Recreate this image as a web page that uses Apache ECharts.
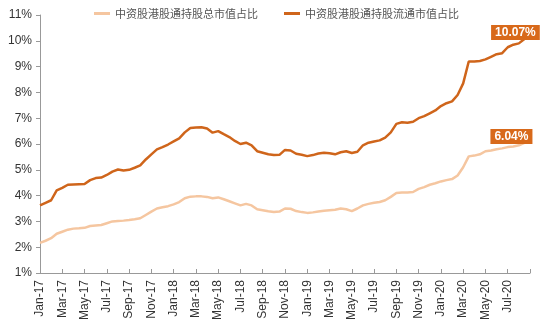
<!DOCTYPE html>
<html>
<head>
<meta charset="utf-8">
<script src="https://cdn.jsdelivr.net/npm/echarts@6/dist/echarts.min.js"></script>
<style>
html,body{margin:0;padding:0;background:#fff;}
#chart{width:553px;height:329px;}
</style>
</head>
<body>
<div id="chart"></div>
<script>
// Month labels for the x axis, one every two months starting Jan-17
const monthLabels = ['Jan-17','Mar-17','May-17','Jul-17','Sep-17','Nov-17','Jan-18','Mar-18','May-18','Jul-18','Sep-18','Nov-18','Jan-19','Mar-19','May-19','Jul-19','Sep-19','Nov-19','Jan-20','Mar-20','May-20','Jul-20'];

// Observation times in months since Jan-2017 (half-month steps)
const months = [0,0.5,1,1.5,2,2.5,3,3.5,4,4.5,5,5.5,6,6.5,7,7.5,8,8.5,9,9.5,10,10.5,11,11.5,12,12.5,13,13.5,14,14.5,15,15.5,16,16.5,17,17.5,18,18.5,19,19.5,20,20.5,21,21.5,22,22.5,23,23.5,24,24.5,25,25.5,26,26.5,27,27.5,28,28.5,29,29.5,30,30.5,31,31.5,32,32.5,33,33.5,34,34.5,35,35.5,36,36.5,37,37.5,38,38.5,39,39.5,40,40.5,41,41.5,42,42.5,43,43.5];

// Share of total market cap held via Southbound (%)
const totalShare = [2.17,2.25,2.35,2.52,2.6,2.68,2.72,2.73,2.75,2.82,2.84,2.86,2.93,3.0,3.02,3.03,3.05,3.08,3.12,3.25,3.38,3.5,3.55,3.59,3.66,3.75,3.9,3.96,3.97,3.97,3.95,3.9,3.93,3.86,3.78,3.7,3.62,3.68,3.62,3.47,3.43,3.39,3.36,3.38,3.5,3.49,3.4,3.36,3.33,3.35,3.38,3.41,3.43,3.45,3.5,3.47,3.4,3.5,3.62,3.68,3.72,3.75,3.82,3.95,4.1,4.12,4.12,4.14,4.26,4.33,4.42,4.48,4.55,4.6,4.64,4.78,5.1,5.52,5.55,5.6,5.72,5.75,5.8,5.83,5.88,5.9,5.95,6.04];

// Share of free-float market cap held via Southbound (%)
const floatShare = [3.62,3.72,3.82,4.2,4.3,4.42,4.43,4.44,4.45,4.6,4.68,4.7,4.8,4.93,5.01,4.97,5.0,5.08,5.17,5.4,5.6,5.79,5.88,5.98,6.1,6.22,6.45,6.62,6.64,6.65,6.6,6.44,6.5,6.38,6.27,6.12,6.0,6.05,5.95,5.72,5.66,5.6,5.57,5.58,5.77,5.75,5.62,5.58,5.53,5.57,5.63,5.66,5.64,5.6,5.68,5.72,5.65,5.7,5.95,6.05,6.1,6.14,6.25,6.45,6.78,6.84,6.82,6.86,7.0,7.08,7.19,7.3,7.47,7.58,7.65,7.9,8.35,9.2,9.2,9.22,9.28,9.38,9.48,9.52,9.75,9.85,9.9,10.07];

const seriesNames = ['中资股港股通持股总市值占比','中资股港股通持股流通市值占比'];

function buildData(vals, offsetX) {
  return vals.map((v, i) => {
    if (i === vals.length - 1) {
      return {
        value: [months[i], v],
        label: {
          show: true,
          position: 'top',
          distance: -1,
          offset: [offsetX, 0],
          formatter: p => p.value[1].toFixed(2) + '%',
          backgroundColor: '#D8691A',
          color: '#fff',
          fontWeight: 'bold',
          fontSize: 12,
          fontFamily: 'Liberation Sans, Arial, sans-serif',
          padding: [2, 4, 1, 4]
        }
      };
    }
    return [months[i], v];
  });
}

const chart = echarts.init(document.getElementById('chart'), null, {renderer: 'canvas'});
chart.setOption({
  animation: false,
  backgroundColor: '#fff',
  legend: {
    top: 3,
    left: 'center',
    icon: 'rect',
    itemWidth: 16,
    itemHeight: 3,
    itemGap: 26,
    textStyle: {fontFamily: 'Noto Sans CJK SC', fontSize: 11, color: '#555'},
    data: seriesNames
  },
  grid: {left: 40, right: 23, top: 15, bottom: 56},
  xAxis: {
    type: 'value',
    min: 0,
    max: 44,
    interval: 2,
    splitLine: {show: false},
    axisLine: {lineStyle: {color: '#999'}},
    axisTick: {inside: true, length: 4, lineStyle: {color: '#999'}},
    axisLabel: {
      rotate: 90,
      margin: 7,
      fontSize: 12,
      color: '#333',
      fontFamily: 'Liberation Sans, Arial, sans-serif',
      formatter: v => monthLabels[Math.round(v / 2)] || ''
    }
  },
  yAxis: {
    type: 'value',
    min: 1,
    max: 11,
    interval: 1,
    splitLine: {show: false},
    axisLine: {show: true, lineStyle: {color: '#999'}},
    axisTick: {show: true, length: 4, lineStyle: {color: '#999'}},
    axisLabel: {
      fontSize: 12,
      color: '#333',
      margin: 8,
      fontFamily: 'Liberation Sans, Arial, sans-serif',
      formatter: '{value}%'
    }
  },
  series: [
    {
      name: seriesNames[0],
      type: 'line',
      symbol: 'circle',
      symbolSize: 0.1,
      lineStyle: {width: 2.5, color: '#F5C6A0'},
      itemStyle: {color: '#F5C6A0'},
      data: buildData(totalShare, -13)
    },
    {
      name: seriesNames[1],
      type: 'line',
      symbol: 'circle',
      symbolSize: 0.1,
      lineStyle: {width: 2.5, color: '#CF651B'},
      itemStyle: {color: '#CF651B'},
      data: buildData(floatShare, -9)
    }
  ]
});
</script>
</body>
</html>
